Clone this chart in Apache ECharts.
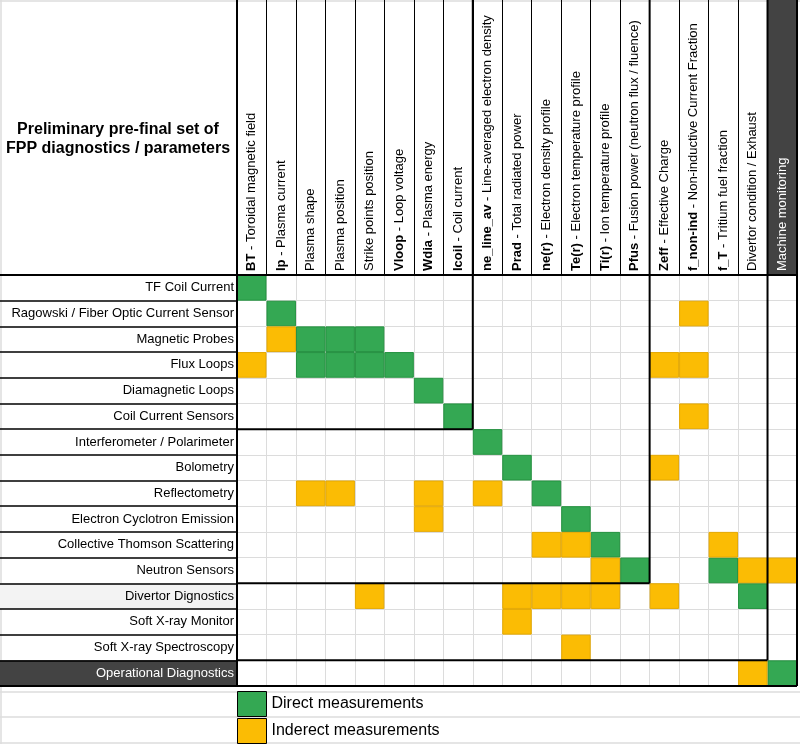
<!DOCTYPE html>
<html>
<head>
<meta charset="utf-8">
<script src="https://cdn.jsdelivr.net/npm/echarts@6/dist/echarts.min.js"></script>
<style>
  html, body { margin: 0; padding: 0; background: #fff; }
  #main { width: 800px; height: 744px; }
</style>
</head>
<body>
<div id="main"></div>
<script>
// parameters (columns) and diagnostics (rows)
const columns = [
  'BT - Toroidal magnetic field',
  'Ip - Plasma current',
  'Plasma shape',
  'Plasma position',
  'Strike points position',
  'Vloop - Loop voltage',
  'Wdia - Plasma energy',
  'Icoil - Coil current',
  'ne_line_av - Line-averaged electron density',
  'Prad - Total radiated power',
  'ne(r) - Electron density profile',
  'Te(r) - Electron temperature profile',
  'Ti(r) - Ion temperature profile',
  'Pfus - Fusion power (neutron flux / fluence)',
  'Zeff - Effective Charge',
  'f_non-ind - Non-inductive Current Fraction',
  'f_T - Tritium fuel fraction',
  'Divertor condition / Exhaust',
  'Machine monitoring'
];
const rows = [
  'TF Coil Current',
  'Ragowski / Fiber Optic Current Sensor',
  'Magnetic Probes',
  'Flux Loops',
  'Diamagnetic Loops',
  'Coil Current Sensors',
  'Interferometer / Polarimeter',
  'Bolometry',
  'Reflectometry',
  'Electron Cyclotron Emission',
  'Collective Thomson Scattering',
  'Neutron Sensors',
  'Divertor Dignostics',
  'Soft X-ray Monitor',
  'Soft X-ray Spectroscopy',
  'Operational Diagnostics'
];
// [column index, row index]
const direct = [
  [0, 0], [1, 1], [2, 2], [3, 2], [4, 2],
  [2, 3], [3, 3], [4, 3], [5, 3],
  [6, 4], [7, 5], [8, 6], [9, 7], [10, 8], [11, 9], [12, 10],
  [13, 11], [16, 11], [17, 12], [18, 15]
];
const indirect = [
  [15, 1], [1, 2], [0, 3], [14, 3], [15, 3], [15, 5], [14, 7],
  [2, 8], [3, 8], [6, 8], [8, 8], [6, 9],
  [10, 10], [11, 10], [16, 10],
  [12, 11], [17, 11], [18, 11],
  [4, 12], [9, 12], [10, 12], [11, 12], [12, 12], [14, 12],
  [9, 13], [11, 14], [17, 15]
];
// block borders: column / row boundary where each group ends
const colGroupEnds = [8, 14, 18];
const rowGroupEnds = [6, 12, 15];

const shadedRow = 'Divertor Dignostics';
const darkRow = 'Operational Diagnostics';
const darkColumn = 'Machine monitoring';

const GREEN = '#34a853', YELLOW = '#fbbc04', DARK = '#434343';
const FONT = '"Liberation Sans", Arial, sans-serif';
const GRID_LEFT = 237, GRID_TOP = 275;

function cellBox(api, c, r) {
  const p = api.coord([c, r]);
  const s = api.size([1, 1]);
  return { x: p[0] - s[0] / 2, y: p[1] - s[1] / 2, w: s[0], h: s[1] };
}

function cellSeries(name, data, fill, stroke) {
  return {
    name: name,
    type: 'custom',
    data: data,
    z: 2,
    itemStyle: { color: fill },
    renderItem: function (params, api) {
      const b = cellBox(api, api.value(0), api.value(1));
      return {
        type: 'rect',
        shape: { x: b.x + 0.5, y: b.y + 0.5, width: b.w - 1, height: b.h - 1 },
        style: { fill: fill, stroke: stroke, lineWidth: 1 }
      };
    }
  };
}

var myChart = echarts.init(document.getElementById('main'));

var option = {
  animation: false,
  backgroundColor: '#fff',
  title: {
    text: 'Preliminary pre-final set of\nFPP diagnostics / parameters',
    left: 118,
    top: 120,
    textAlign: 'center',
    padding: 0,
    textStyle: { fontFamily: FONT, fontSize: 16, fontWeight: 'bold', color: '#000', lineHeight: 19 }
  },
  legend: {
    orient: 'vertical',
    left: GRID_LEFT,
    top: 691,
    padding: 0,
    itemGap: 1,
    itemWidth: 29,
    itemHeight: 25,
    icon: 'rect',
    selectedMode: false,
    itemStyle: { borderColor: '#000', borderWidth: 1 },
    textStyle: { fontFamily: FONT, fontSize: 16, color: '#000' },
    data: ['Direct measurements', 'Inderect measurements']
  },
  grid: { left: GRID_LEFT, top: GRID_TOP, right: 3, bottom: 58 },
  xAxis: {
    type: 'category',
    data: columns,
    position: 'top',
    boundaryGap: true,
    axisLine: { show: true, lineStyle: { color: '#000', width: 2 } },
    axisTick: { show: true, interval: 0, length: GRID_TOP, lineStyle: { color: '#000', width: 1 } },
    splitLine: { show: true, interval: 0, lineStyle: { color: '#dcdcdc', width: 1 } },
    axisLabel: {
      interval: 0,
      rotate: -90,
      margin: 4,
      fontFamily: FONT,
      fontSize: 13,
      color: '#000',
      formatter: function (v) {
        if (v === darkColumn) return '{w|' + v + '}';
        const i = v.indexOf(' - ');
        if (i < 0) return v;
        return '{b|' + v.slice(0, i) + '}' + v.slice(i);
      },
      rich: {
        b: { fontFamily: FONT, fontSize: 13, fontWeight: 'bold', color: '#000' },
        w: { fontFamily: FONT, fontSize: 13, color: '#fff' }
      }
    }
  },
  yAxis: {
    type: 'category',
    data: rows,
    inverse: true,
    boundaryGap: true,
    axisLine: { show: true, lineStyle: { color: '#000', width: 2 } },
    axisTick: { show: true, interval: 0, length: GRID_LEFT, lineStyle: { color: '#000', width: 1.5 } },
    splitLine: { show: true, interval: 0, lineStyle: { color: '#dcdcdc', width: 1 } },
    axisLabel: {
      interval: 0,
      margin: 3,
      fontFamily: FONT,
      fontSize: 13,
      color: '#000',
      formatter: function (v) { return v === darkRow ? '{w|' + v + '}' : v; },
      rich: { w: { fontFamily: FONT, fontSize: 13, color: '#fff' } }
    }
  },
  series: [
    // backgrounds of header / label cells and the legend rows
    {
      type: 'custom',
      silent: true,
      z: -1,
      clip: false,
      data: [[0, 0]],
      renderItem: function (params, api) {
        const o = cellBox(api, 0, 0);
        const X = k => o.x + k * o.w, Y = k => o.y + k * o.h;
        const kids = [];
        const yb = Y(rows.length);
        [6, 31, 57].forEach(d => {
          kids.push({ type: 'line', shape: { x1: 0, y1: yb + d, x2: 800, y2: yb + d }, style: { stroke: '#dcdcdc', lineWidth: 1.5 } });
        });
        kids.push({ type: 'line', shape: { x1: 1, y1: 0, x2: 1, y2: 744 }, style: { stroke: '#dcdcdc', lineWidth: 1.5 } });
        kids.push({ type: 'line', shape: { x1: 0, y1: 1, x2: 800, y2: 1 }, style: { stroke: '#dcdcdc', lineWidth: 1.5 } });
        const dc = columns.indexOf(darkColumn);
        kids.push({ type: 'rect', shape: { x: X(dc), y: 0, width: o.w, height: Y(0) }, style: { fill: DARK } });
        const sr = rows.indexOf(shadedRow), dr = rows.indexOf(darkRow);
        kids.push({ type: 'rect', shape: { x: 0, y: Y(sr), width: X(0), height: o.h }, style: { fill: '#f3f3f3' } });
        kids.push({ type: 'rect', shape: { x: 0, y: Y(dr), width: X(0), height: o.h }, style: { fill: DARK } });
        return { type: 'group', children: kids };
      }
    },
    cellSeries('Direct measurements', direct, GREEN, '#23913f'),
    cellSeries('Inderect measurements', indirect, YELLOW, '#e5a800'),
    // thick block borders
    {
      type: 'custom',
      silent: true,
      z: 5,
      clip: false,
      data: [[0, 0]],
      renderItem: function (params, api) {
        const o = cellBox(api, 0, 0);
        const X = k => o.x + k * o.w, Y = k => o.y + k * o.h;
        const nc = columns.length, nr = rows.length;
        const segs = [
          [0, Y(0), X(nc), Y(0)],
          [0, Y(nr), X(nc), Y(nr)],
          [X(0), 0, X(0), Y(nr)],
          [X(nc), 0, X(nc), Y(nr)]
        ];
        colGroupEnds.forEach((c, i) => {
          const r = rowGroupEnds[i];
          segs.push([X(0), Y(r), X(c), Y(r)]);
          segs.push([X(c), 0, X(c), Y(r)]);
        });
        return {
          type: 'group',
          children: segs.map(s => ({
            type: 'line',
            shape: { x1: s[0], y1: s[1], x2: s[2], y2: s[3] },
            style: { stroke: '#000', lineWidth: 2 }
          }))
        };
      }
    }
  ]
};

myChart.setOption(option);
</script>
</body>
</html>
